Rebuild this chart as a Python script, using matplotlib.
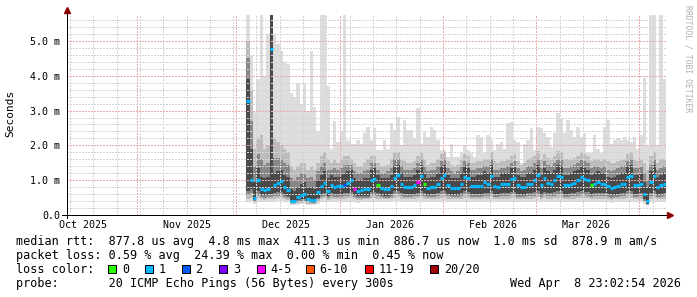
import datetime as dt
import matplotlib
matplotlib.use("Agg")
import matplotlib.pyplot as plt
import matplotlib.dates as mdates
from matplotlib.patches import Rectangle
from matplotlib.ticker import MultipleLocator

plt.rcParams['font.family'] = ['DejaVu Sans Mono']

W, H = 697, 297

# time range of the graph (180 days up to "now")
t_start = dt.datetime(2025, 10, 10, 23, 2, 54)
t_end = dt.datetime(2026, 4, 8, 23, 2, 54)
first_day = dt.datetime(2025, 12, 4)

# daily median rtt in ms
median_ms = [
    3.27, 1.00, 0.49, 1.00, 0.74, 0.72, 0.75, 4.76, 0.86, 0.92,
    0.97, 0.80, 0.72, 0.40, 0.40, 0.52, 0.57, 0.60, 0.46, 0.43,
    0.43, 0.66, 0.83, 0.92, 0.70, 0.86, 0.80, 0.83, 0.83, 0.86,
    0.92, 1.00, 0.75, 0.69, 0.72, 0.75, 0.75, 1.00, 1.03, 0.86,
    0.77, 0.75, 0.75, 0.83, 1.06, 1.15, 0.90, 0.80, 0.80, 0.80,
    0.85, 0.95, 1.13, 0.90, 0.77, 0.80, 0.80, 0.88, 1.06, 1.15,
    0.86, 0.77, 0.77, 0.77, 0.88, 1.10, 1.05, 0.83, 0.83, 0.83,
    0.83, 0.95, 0.90, 1.13, 0.83, 0.81, 0.89, 0.89, 0.89, 1.03,
    1.06, 0.85, 0.80, 0.80, 0.89, 0.90, 1.00, 1.15, 0.85, 1.05,
    0.92, 0.90, 1.00, 1.12, 1.10, 0.85, 0.85, 0.90, 0.92, 1.00,
    1.10, 1.03, 1.00, 0.86, 0.90, 0.95, 0.90, 0.90, 0.82, 0.78,
    0.80, 0.83, 0.88, 0.90, 1.10, 1.12, 0.86, 0.86, 0.90, 0.60,
    0.40, 0.95, 1.12, 0.80, 0.86, 0.90]

# lost pings per day (out of 20), picks the median colour
loss_cnt = [1] * 29 + [2] + [1] * 2 + [4] + [1] * 6 + [0] + [1] * 11 + [4, 1, 0] + [1] * 49 + [0] + [1] * 22

# smoke: outer envelope (slowest / fastest ping)
ping_max = [
    6.00, 4.60, 3.00, 3.90, 6.00, 4.00, 5.20, 6.00, 5.20, 4.90,
    4.70, 4.40, 4.35, 3.50, 3.40, 3.80, 3.20, 3.80, 3.00, 4.70,
    3.10, 2.40, 6.00, 6.00, 3.70, 1.90, 2.70, 2.10, 2.40, 6.00,
    2.15, 2.05, 2.05, 2.15, 2.05, 2.35, 2.54, 2.15, 2.49, 1.87,
    1.87, 2.15, 1.90, 2.63, 2.44, 2.82, 2.00, 2.73, 2.44, 2.44,
    2.20, 3.06, 2.05, 2.39, 2.25, 2.54, 2.44, 2.15, 1.87, 1.87,
    1.68, 2.05, 1.68, 1.68, 1.78, 2.00, 1.87, 1.78, 1.68, 2.30,
    2.25, 1.78, 2.30, 2.15, 1.87, 2.05, 2.10, 1.90, 2.63, 2.68,
    2.15, 2.10, 1.49, 2.05, 2.15, 2.49, 1.87, 2.54, 2.49, 2.35,
    2.25, 1.95, 2.35, 2.92, 2.78, 2.35, 2.73, 2.44, 2.25, 2.54,
    2.25, 2.35, 1.78, 1.78, 2.30, 1.90, 1.78, 2.54, 2.73, 2.05,
    2.15, 2.20, 2.15, 2.25, 2.15, 2.10, 2.25, 1.90, 2.30, 3.93,
    2.00, 6.00, 6.00, 2.00, 6.00, 3.90]
ping_min = [
    0.38, 0.40, 0.33, 0.38, 0.37, 0.36, 0.37, 0.38, 0.38, 0.39,
    0.39, 0.37, 0.36, 0.29, 0.29, 0.30, 0.31, 0.31, 0.29, 0.29,
    0.29, 0.33, 0.37, 0.38, 0.36, 0.37, 0.37, 0.37, 0.37, 0.37,
    0.38, 0.38, 0.36, 0.35, 0.36, 0.36, 0.36, 0.38, 0.38, 0.37,
    0.36, 0.36, 0.36, 0.37, 0.39, 0.39, 0.37, 0.36, 0.36, 0.36,
    0.37, 0.37, 0.39, 0.37, 0.36, 0.36, 0.36, 0.37, 0.38, 0.39,
    0.37, 0.36, 0.36, 0.36, 0.37, 0.38, 0.38, 0.36, 0.36, 0.36,
    0.36, 0.37, 0.37, 0.39, 0.36, 0.36, 0.37, 0.37, 0.37, 0.38,
    0.38, 0.36, 0.36, 0.36, 0.37, 0.37, 0.37, 0.39, 0.36, 0.38,
    0.37, 0.37, 0.37, 0.38, 0.38, 0.36, 0.36, 0.37, 0.37, 0.37,
    0.38, 0.38, 0.37, 0.36, 0.37, 0.37, 0.37, 0.37, 0.36, 0.35,
    0.36, 0.36, 0.37, 0.37, 0.38, 0.38, 0.36, 0.36, 0.37, 0.31,
    0.27, 0.37, 0.38, 0.36, 0.36, 0.37]

# smoke: second band
band_b_hi = [
    5.00, 3.60, 1.90, 2.20, 2.30, 1.90, 2.00, 6.00, 2.20, 2.10,
    2.00, 1.90, 1.80, 1.40, 1.30, 1.40, 1.50, 1.50, 1.30, 1.40,
    1.30, 1.50, 1.70, 1.80, 1.60, 1.50, 1.60, 1.50, 1.60, 1.70,
    1.70, 1.60, 1.50, 1.40, 1.40, 1.50, 1.60, 1.70, 1.70, 1.50,
    1.40, 1.40, 1.45, 1.60, 1.80, 1.80, 1.60, 1.55, 1.50, 1.50,
    1.55, 1.70, 1.80, 1.60, 1.45, 1.50, 1.50, 1.60, 1.75, 1.80,
    1.55, 1.45, 1.40, 1.45, 1.60, 1.75, 1.70, 1.50, 1.50, 1.55,
    1.55, 1.60, 1.60, 1.80, 1.55, 1.50, 1.55, 1.55, 1.60, 1.70,
    1.75, 1.55, 1.45, 1.50, 1.60, 1.65, 1.70, 1.85, 1.60, 1.75,
    1.65, 1.60, 1.70, 1.85, 1.80, 1.60, 1.60, 1.60, 1.65, 1.70,
    1.80, 1.75, 1.70, 1.55, 1.60, 1.60, 1.55, 1.60, 1.55, 1.50,
    1.50, 1.55, 1.60, 1.60, 1.75, 1.80, 1.60, 1.55, 1.60, 1.50,
    1.30, 1.70, 1.80, 1.50, 1.60, 1.60]
band_b_lo = [
    0.46, 0.50, 0.36, 0.48, 0.45, 0.44, 0.45, 0.46, 0.47, 0.48,
    0.48, 0.46, 0.44, 0.32, 0.32, 0.34, 0.35, 0.36, 0.33, 0.32,
    0.32, 0.40, 0.46, 0.48, 0.44, 0.47, 0.46, 0.46, 0.46, 0.47,
    0.48, 0.49, 0.45, 0.44, 0.44, 0.45, 0.45, 0.49, 0.49, 0.47,
    0.45, 0.45, 0.45, 0.46, 0.50, 0.51, 0.47, 0.46, 0.46, 0.46,
    0.47, 0.48, 0.51, 0.47, 0.45, 0.46, 0.46, 0.47, 0.50, 0.51,
    0.47, 0.45, 0.45, 0.45, 0.47, 0.50, 0.49, 0.46, 0.46, 0.46,
    0.46, 0.48, 0.47, 0.51, 0.46, 0.46, 0.47, 0.47, 0.47, 0.49,
    0.50, 0.46, 0.45, 0.45, 0.47, 0.47, 0.48, 0.51, 0.46, 0.49,
    0.47, 0.47, 0.48, 0.50, 0.50, 0.46, 0.46, 0.47, 0.47, 0.48,
    0.50, 0.49, 0.48, 0.46, 0.47, 0.47, 0.47, 0.47, 0.45, 0.44,
    0.45, 0.46, 0.47, 0.47, 0.50, 0.50, 0.46, 0.46, 0.47, 0.36,
    0.30, 0.47, 0.50, 0.45, 0.46, 0.47]

# smoke: third band
band_d_hi = [
    4.50, 2.70, 1.40, 1.75, 1.60, 1.45, 1.50, 6.00, 1.65, 1.65,
    1.60, 1.50, 1.45, 1.05, 1.00, 1.10, 1.20, 1.20, 1.05, 1.10,
    1.00, 1.25, 1.40, 1.50, 1.30, 1.30, 1.35, 1.30, 1.35, 1.45,
    1.45, 1.45, 1.25, 1.20, 1.20, 1.25, 1.30, 1.50, 1.50, 1.30,
    1.20, 1.20, 1.25, 1.35, 1.60, 1.60, 1.40, 1.30, 1.30, 1.30,
    1.35, 1.50, 1.60, 1.40, 1.25, 1.30, 1.30, 1.40, 1.55, 1.60,
    1.35, 1.25, 1.20, 1.25, 1.40, 1.55, 1.50, 1.30, 1.30, 1.35,
    1.35, 1.40, 1.40, 1.60, 1.30, 1.30, 1.35, 1.35, 1.40, 1.50,
    1.55, 1.35, 1.25, 1.30, 1.40, 1.40, 1.50, 1.62, 1.35, 1.55,
    1.45, 1.40, 1.50, 1.62, 1.58, 1.35, 1.35, 1.40, 1.45, 1.50,
    1.58, 1.55, 1.50, 1.35, 1.40, 1.40, 1.35, 1.40, 1.30, 1.25,
    1.30, 1.35, 1.40, 1.40, 1.55, 1.60, 1.35, 1.35, 1.40, 1.20,
    1.00, 1.45, 1.60, 1.30, 1.35, 1.40]
band_d_lo = [
    0.58, 0.62, 0.39, 0.58, 0.51, 0.50, 0.51, 0.53, 0.54, 0.56,
    0.57, 0.53, 0.50, 0.34, 0.34, 0.38, 0.40, 0.41, 0.36, 0.35,
    0.35, 0.45, 0.53, 0.56, 0.50, 0.54, 0.53, 0.53, 0.53, 0.54,
    0.56, 0.57, 0.51, 0.49, 0.50, 0.50, 0.50, 0.57, 0.58, 0.54,
    0.51, 0.50, 0.50, 0.53, 0.59, 0.60, 0.55, 0.52, 0.52, 0.52,
    0.54, 0.56, 0.60, 0.55, 0.51, 0.52, 0.52, 0.54, 0.59, 0.60,
    0.54, 0.51, 0.51, 0.51, 0.54, 0.59, 0.58, 0.53, 0.53, 0.53,
    0.53, 0.56, 0.54, 0.60, 0.53, 0.52, 0.54, 0.54, 0.54, 0.57,
    0.58, 0.53, 0.51, 0.51, 0.54, 0.54, 0.56, 0.60, 0.53, 0.57,
    0.55, 0.54, 0.56, 0.59, 0.59, 0.53, 0.53, 0.54, 0.55, 0.56,
    0.59, 0.57, 0.56, 0.53, 0.54, 0.55, 0.54, 0.54, 0.52, 0.50,
    0.51, 0.53, 0.54, 0.54, 0.59, 0.59, 0.53, 0.53, 0.54, 0.40,
    0.31, 0.55, 0.59, 0.51, 0.53, 0.54]

# smoke: dark core
band_c_hi = [
    3.90, 1.90, 0.95, 1.35, 1.10, 1.05, 1.10, 6.00, 1.20, 1.25,
    1.30, 1.15, 1.10, 0.75, 0.70, 0.80, 0.90, 0.95, 0.80, 0.80,
    0.75, 1.00, 1.15, 1.25, 1.05, 1.15, 1.10, 1.10, 1.15, 1.20,
    1.25, 1.30, 1.05, 1.00, 1.00, 1.05, 1.05, 1.30, 1.35, 1.15,
    1.05, 1.05, 1.05, 1.15, 1.40, 1.45, 1.20, 1.10, 1.10, 1.10,
    1.15, 1.30, 1.45, 1.20, 1.05, 1.10, 1.10, 1.20, 1.40, 1.45,
    1.15, 1.05, 1.05, 1.05, 1.20, 1.40, 1.35, 1.10, 1.10, 1.15,
    1.15, 1.25, 1.20, 1.45, 1.10, 1.10, 1.20, 1.20, 1.20, 1.35,
    1.40, 1.15, 1.10, 1.10, 1.20, 1.20, 1.30, 1.45, 1.15, 1.35,
    1.25, 1.20, 1.30, 1.45, 1.40, 1.15, 1.15, 1.20, 1.25, 1.30,
    1.40, 1.35, 1.30, 1.15, 1.20, 1.25, 1.20, 1.20, 1.10, 1.05,
    1.10, 1.15, 1.20, 1.20, 1.40, 1.45, 1.15, 1.15, 1.20, 0.95,
    0.80, 1.25, 1.45, 1.10, 1.15, 1.20]
band_c_lo = [
    0.70, 0.75, 0.42, 0.70, 0.58, 0.57, 0.58, 0.60, 0.62, 0.65,
    0.66, 0.60, 0.55, 0.36, 0.36, 0.42, 0.45, 0.46, 0.40, 0.38,
    0.38, 0.50, 0.60, 0.64, 0.55, 0.62, 0.60, 0.60, 0.60, 0.62,
    0.64, 0.66, 0.57, 0.54, 0.55, 0.56, 0.56, 0.66, 0.67, 0.62,
    0.58, 0.56, 0.56, 0.60, 0.68, 0.70, 0.63, 0.59, 0.59, 0.59,
    0.61, 0.64, 0.69, 0.63, 0.57, 0.59, 0.59, 0.62, 0.68, 0.70,
    0.61, 0.57, 0.57, 0.57, 0.62, 0.69, 0.67, 0.60, 0.60, 0.60,
    0.60, 0.64, 0.62, 0.69, 0.60, 0.59, 0.62, 0.62, 0.62, 0.66,
    0.67, 0.60, 0.58, 0.58, 0.62, 0.62, 0.65, 0.70, 0.60, 0.66,
    0.63, 0.62, 0.65, 0.69, 0.68, 0.60, 0.60, 0.62, 0.63, 0.65,
    0.68, 0.66, 0.65, 0.60, 0.62, 0.63, 0.62, 0.62, 0.59, 0.57,
    0.58, 0.60, 0.62, 0.62, 0.68, 0.69, 0.60, 0.60, 0.62, 0.45,
    0.33, 0.63, 0.69, 0.58, 0.60, 0.62]

y_ticks = [0, 1, 2, 3, 4, 5]
y_tick_labels = ["0.0", "1.0 m", "2.0 m", "3.0 m", "4.0 m", "5.0 m"]
month_labels = ["Oct 2025", "Nov 2025", "Dec 2025", "Jan 2026", "Feb 2026", "Mar 2026"]
month_label_dates = [dt.datetime(2025, 10, 16), dt.datetime(2025, 11, 16), dt.datetime(2025, 12, 16),
                     dt.datetime(2026, 1, 16), dt.datetime(2026, 2, 16), dt.datetime(2026, 3, 16)]

loss_names = ["0", "1", "2", "3", "4-5", "6-10", "11-19", "20/20"]
loss_colors = ["#26ff00", "#00b8ff", "#0059ff", "#7e00ff", "#ff00ff", "#ff5500", "#ff0000", "#a10000"]
loss_lower = [0, 1, 2, 3, 4, 6, 11, 20]


def loss_color(n):
    col = loss_colors[0]
    for lo, c in zip(loss_lower, loss_colors):
        if n >= lo:
            col = c
    return col


def fx(x):
    return x / W


def fy(y):
    return 1 - y / H


def ext(v):
    # repeat last value so the step fill covers the final day
    return list(v) + [v[-1]]


fig = plt.figure(figsize=(W / 100, H / 100), dpi=100)
fig.patch.set_facecolor("white")
ax = fig.add_axes([fx(66.5), fy(215), (666 - 66.5) / W, (215 - 14.5) / H])

days = [first_day + dt.timedelta(days=i) for i in range(len(median_ms))]
edges = days + [days[-1] + dt.timedelta(days=1)]

# smoke bands, outer to inner
bands = [(ping_min, ping_max, "#dddddd"),
         (band_b_lo, band_b_hi, "#bcbcbc"),
         (band_d_lo, band_d_hi, "#878787"),
         (band_c_lo, band_c_hi, "#4a4a4a")]
for i, (lo, hi, c) in enumerate(bands):
    ax.fill_between(edges, ext(lo), ext(hi), step="post", color=c, linewidth=0, zorder=1 + i * 0.1)

# median, coloured by loss
ax.hlines(median_ms, mdates.date2num(days), mdates.date2num(edges[1:]),
          colors=[loss_color(n) for n in loss_cnt], linewidth=2.3, zorder=3)

ax.set_xlim(t_start, t_end)
ax.set_ylim(0, 5.76)

ax.xaxis.set_major_locator(mdates.MonthLocator())
ax.xaxis.set_minor_locator(mdates.WeekdayLocator(byweekday=mdates.SU))
ax.xaxis.set_major_formatter(plt.NullFormatter())
ax.set_yticks(y_ticks)
ax.set_yticklabels(y_tick_labels)
ax.yaxis.set_minor_locator(MultipleLocator(0.2))

# dotted grid drawn over the smoke, like rrdtool
ax.set_axisbelow(False)
ax.grid(which="major", color="#eaaaaa", linestyle=(0, (1, 1)), linewidth=1.0, antialiased=False)
ax.grid(which="minor", color="#d4d4d4", linestyle=(0, (1, 1)), linewidth=1.0, antialiased=False)
ax.tick_params(axis="x", which="both", length=0)
ax.tick_params(axis="y", which="major", length=0, pad=4.5, labelsize=7.2)
ax.tick_params(axis="y", which="minor", length=0)

for s in ["top", "right"]:
    ax.spines[s].set_visible(False)
for s in ["left", "bottom"]:
    ax.spines[s].set_color("black")
    ax.spines[s].set_linewidth(0.72)
    ax.spines[s].set_zorder(4)

# axis extensions and arrow heads
ax.plot([0, 0], [-0.015, 1.02], color="black", lw=0.72, transform=ax.transAxes, clip_on=False, zorder=4)
ax.plot([-0.007, 1.006], [0, 0], color="black", lw=0.72, transform=ax.transAxes, clip_on=False, zorder=4)
ax.plot([0], [1.021], marker="^", ms=4, color="#8b0000", transform=ax.transAxes, clip_on=False, zorder=5)
ax.plot([1.0075], [0], marker=">", ms=4, color="#8b0000", transform=ax.transAxes, clip_on=False, zorder=5)

for d, lab in zip(month_label_dates, month_labels):
    ax.text(d, -0.065, lab, transform=ax.get_xaxis_transform(), ha="center", va="baseline", fontsize=7.2)

fig.text(fx(10), fy(113), "Seconds", rotation=90, ha="center", va="center", fontsize=8)
fig.text(fx(688), fy(5), "RRDTOOL / TOBI OETIKER", rotation=270, ha="center", va="top",
         fontsize=5.8, color="#b0b0b0")

# legend block
fs = 8.5
fig.text(fx(16), fy(245), "median rtt:  877.8 us avg  4.8 ms max  411.3 us min  886.7 us now  1.0 ms sd  878.9 m am/s",
         fontsize=fs, va="baseline")
fig.text(fx(16), fy(259), "packet loss: 0.59 % avg  24.39 % max  0.00 % min  0.45 % now",
         fontsize=fs, va="baseline")
fig.text(fx(16), fy(273), "loss color:", fontsize=fs, va="baseline")
sq_left = [108.3, 145.0, 181.7, 219.0, 256.7, 305.7, 365.0, 430.0]
for xl, name, c in zip(sq_left, loss_names, loss_colors):
    fig.add_artist(Rectangle((fx(xl), fy(272.7)), 8.0 / W, 8.0 / H, transform=fig.transFigure,
                             facecolor=c, edgecolor="black", linewidth=0.72))
    fig.text(fx(xl + 13.8), fy(273), name, fontsize=fs, va="baseline")
fig.text(fx(16), fy(287), "probe:       20 ICMP Echo Pings (56 Bytes) every 300s", fontsize=fs, va="baseline")
fig.text(fx(681), fy(287), "Wed Apr  8 23:02:54 2026", fontsize=fs, va="baseline", ha="right")

fig.savefig("out.png", dpi=100, facecolor="white")
